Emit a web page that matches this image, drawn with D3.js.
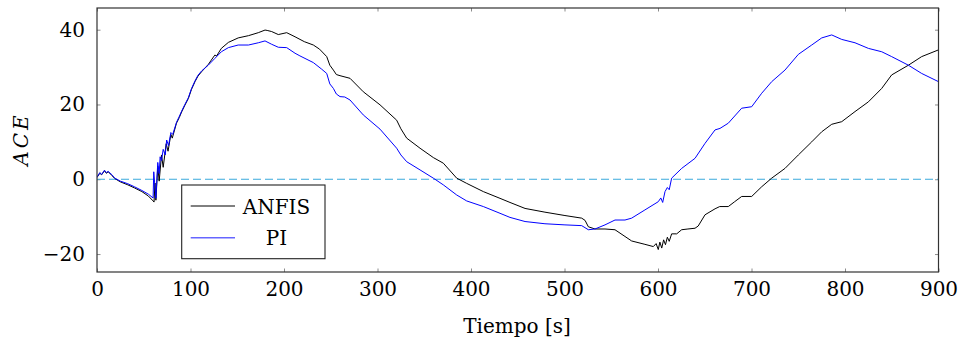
<!DOCTYPE html>
<html>
<head>
<meta charset="utf-8">
<script src="https://cdn.jsdelivr.net/npm/d3@7"></script>
<style>
  html, body { margin: 0; padding: 0; background: #fff; }
  svg { display: block; }
  text { font-family: "DejaVu Serif", serif; fill: #000; }
</style>
</head>
<body>
<svg id="chart" width="961" height="342"></svg>
<script>
// ---- data ----
const xTicks = [0, 100, 200, 300, 400, 500, 600, 700, 800, 900];
const yTicks = [-20, 0, 20, 40];
const seriesNames = ["ANFIS", "PI"];
const seriesColors = ["#000000", "#0000ff"];

const anfis = [[0,0.5],[3,1.6],[5,1.2],[8,2.3],[10,1.6],[12,2.0],[16,1.0],[19,0.2],[25,-0.7],[33,-1.5],[40,-2.3],[48,-3.3],[55,-4.5],[60,-5.8],[61,-6.1],[62,-1],[63,-5.6],[65,3.5],[66.5,-0.5],[69,6.5],[70.8,3.2],[74,9.5],[76,7.5],[79,12],[80.5,11],[85,15],[88,16.5],[90.5,18],[94,19.8],[97.7,21.6],[101,24],[104.8,26.1],[108,27.6],[112,28.8],[119,30.7],[126,33.2],[128,33.0],[133,35.0],[140.5,36.6],[151,37.8],[162,38.4],[172.5,39.2],[179.7,39.9],[182,39.8],[186.8,39.5],[193.9,38.7],[202.9,39.2],[211.8,38.1],[221.7,36.8],[231.4,35.9],[238,34.8],[245.7,32.8],[249,30.5],[252.8,29.2],[256,28],[259.9,27.7],[270.6,27.0],[284.8,23.4],[302.7,19.9],[320.5,15.8],[325,13.5],[331.2,11.0],[345.5,8.3],[359.7,5.8],[370.4,4.3],[384.7,0.3],[395.4,-1.1],[413.2,-3.3],[431,-5.1],[441.7,-6.2],[457.8,-7.8],[479.1,-8.8],[500.5,-9.7],[518.4,-10.4],[522,-11],[525.5,-12.7],[532.6,-13.3],[543.3,-13.3],[554,-13.5],[564.7,-15.3],[571.8,-16.5],[586,-17.4],[595,-18],[598,-17.2],[600.3,-18.8],[602,-16.8],[604,-18.4],[606,-16.2],[608,-17.5],[610,-15.5],[612,-16.6],[614.6,-14.6],[620,-14.6],[625.3,-13.5],[632,-13.3],[639.6,-13.1],[643,-12.5],[650.3,-9.5],[661,-7.9],[666,-7.3],[675.2,-7.3],[682,-6],[689.5,-4.6],[700.2,-4.6],[710.9,-2.0],[721.6,0.3],[735.8,2.9],[750.1,6.5],[764.4,10.0],[775.1,12.7],[785.8,14.7],[796.5,15.4],[810.7,18.1],[825,20.7],[839.3,24.3],[849.9,27.9],[867.8,30.5],[882,32.8],[900,34.6]];

const pi = [[0,0.5],[3,1.8],[5,1.3],[8,2.4],[10,1.8],[12,2.1],[16,1.2],[19,0.3],[25,-0.5],[33,-1.2],[40,-2.0],[48,-3.0],[55,-4.0],[60,-5.0],[60.7,2.0],[63,-5.1],[65,4.5],[66.5,1.5],[67.5,6],[69,5],[70.8,8],[73,6.5],[74.5,10.5],[76.5,9],[79,12.5],[81,12],[85,15.2],[88,16.8],[90.5,18.2],[94,20],[97.7,21.8],[101,24.2],[104.8,26.3],[108,27.8],[112,29],[119,30.5],[126,32.3],[133,34.1],[140.5,35.2],[151,35.9],[162,35.9],[172.5,36.5],[179.7,37.0],[186.8,36.1],[193.9,35.3],[202.9,35.2],[211.8,33.7],[217,33.0],[231.4,31.2],[240,29.5],[245.7,28.3],[249,25.5],[252.8,24.3],[256,22.8],[259.9,22.1],[265,22],[270.6,21.2],[284.8,17.2],[302.7,13.4],[320.5,8.3],[325,6.5],[331.2,4.7],[345.5,2.5],[359.7,0.3],[370.4,-1.5],[384.7,-4.2],[395.4,-5.8],[413.2,-7.3],[431,-9.1],[441.7,-10.2],[457.8,-11.3],[479.1,-11.9],[500.5,-12.2],[518.4,-12.4],[525.5,-13.5],[532.6,-13.3],[543.3,-12.2],[554,-10.9],[564.7,-10.9],[571.8,-10.4],[586,-8.2],[600.3,-6.0],[603,-5.0],[605,-6.2],[607.5,-3.3],[610,-2.2],[612,-2.8],[614.6,0.3],[625.3,2.9],[639.6,5.6],[650.3,9.6],[661,13.2],[666.3,13.6],[675.2,15.0],[689.5,19.0],[700.2,19.4],[710.9,23.0],[721.6,26.1],[735.8,29.2],[750.1,33.4],[764.4,35.9],[775.1,37.8],[785.8,38.6],[796.5,37.4],[810.7,36.5],[825,35.0],[839.3,34.1],[849.9,32.8],[867.8,30.5],[882,28.3],[900,26.1]];

const xDomain = [0, 900];
const yDomain = [-24.8, 45.8];

// ---- layout ----
const svg = d3.select("#chart");
const L = 97, R = 938.5, T = 8, B = 272;
const x = d3.scaleLinear().domain(xDomain).range([L, R]);
const y = d3.scaleLinear().domain(yDomain).range([B, T]);

const tickLen = 3.5;
const tickColor = "#8c8c8c";
const fs = 20;

// ticks (inside, mirrored)
const gAxes = svg.append("g");
const xb = d3.axisBottom(x).tickValues(xTicks).tickSizeInner(-tickLen).tickSizeOuter(0).tickPadding(10).tickFormat(d3.format("d"));
const xt = d3.axisTop(x).tickValues(xTicks).tickSizeInner(-tickLen).tickSizeOuter(0).tickFormat("");
const yl = d3.axisLeft(y).tickValues(yTicks).tickSizeInner(-tickLen).tickSizeOuter(0).tickPadding(12).tickFormat(d => d < 0 ? "\u2212" + Math.abs(d) : d);
const yr = d3.axisRight(y).tickValues(yTicks).tickSizeInner(-tickLen).tickSizeOuter(0).tickFormat("");

function styleAxis(g) {
  g.select(".domain").remove();
  g.selectAll(".tick line").attr("stroke", tickColor).attr("stroke-width", 1);
  g.selectAll(".tick text").attr("font-family", "DejaVu Serif").attr("font-size", fs).attr("fill", "#000");
}
gAxes.append("g").attr("transform", `translate(0,${B})`).call(xb).call(styleAxis);
gAxes.append("g").attr("transform", `translate(0,${T})`).call(xt).call(styleAxis);
gAxes.append("g").attr("transform", `translate(${L},0)`).call(yl).call(styleAxis);
gAxes.append("g").attr("transform", `translate(${R},0)`).call(yr).call(styleAxis);

// zero dashed line
svg.append("line")
  .attr("x1", x(xDomain[0])).attr("x2", x(xDomain[1]))
  .attr("y1", y(0)).attr("y2", y(0))
  .attr("stroke", "#3aa9dc").attr("stroke-width", 1)
  .attr("stroke-dasharray", "8,4");

// series
const line = d3.line().x(d => x(d[0])).y(d => y(d[1]));
const clip = svg.append("clipPath").attr("id", "clip").append("rect")
  .attr("x", L).attr("y", T).attr("width", R - L).attr("height", B - T);
[anfis, pi].forEach((data, i) => {
  svg.append("path")
    .datum(data)
    .attr("clip-path", "url(#clip)")
    .attr("fill", "none")
    .attr("stroke", seriesColors[i])
    .attr("stroke-width", 1)
    .attr("stroke-linejoin", "round")
    .attr("d", line);
});

// frame
svg.append("rect")
  .attr("x", L).attr("y", T).attr("width", R - L).attr("height", B - T)
  .attr("fill", "none").attr("stroke", "#333").attr("stroke-width", 1.2);

// legend
const lg = svg.append("g");
lg.append("rect").attr("x", 181.7).attr("y", 185).attr("width", 143.3).attr("height", 73.7)
  .attr("fill", "#fff").attr("stroke", "#222").attr("stroke-width", 1.1);
const legY = [206, 237.7];
seriesNames.forEach((name, i) => {
  lg.append("line").attr("x1", 190.7).attr("x2", 235).attr("y1", legY[i]).attr("y2", legY[i])
    .attr("stroke", seriesColors[i]).attr("stroke-width", i === 0 ? 1 : 1.6)
    .attr("stroke-opacity", i === 0 ? 1 : 0.6);
  lg.append("text").attr("x", 276.5).attr("y", legY[i] + 7.5)
    .attr("text-anchor", "middle").attr("font-size", fs).text(name);
});

// axis labels
svg.append("text").attr("x", 517).attr("y", 333).attr("text-anchor", "middle")
  .attr("font-size", fs).text("Tiempo [s]");
svg.append("text").attr("transform", "translate(28,139) rotate(-90)")
  .attr("text-anchor", "middle").attr("font-size", fs).attr("font-style", "italic")
  .attr("letter-spacing", 3).text("ACE");
</script>
</body>
</html>
